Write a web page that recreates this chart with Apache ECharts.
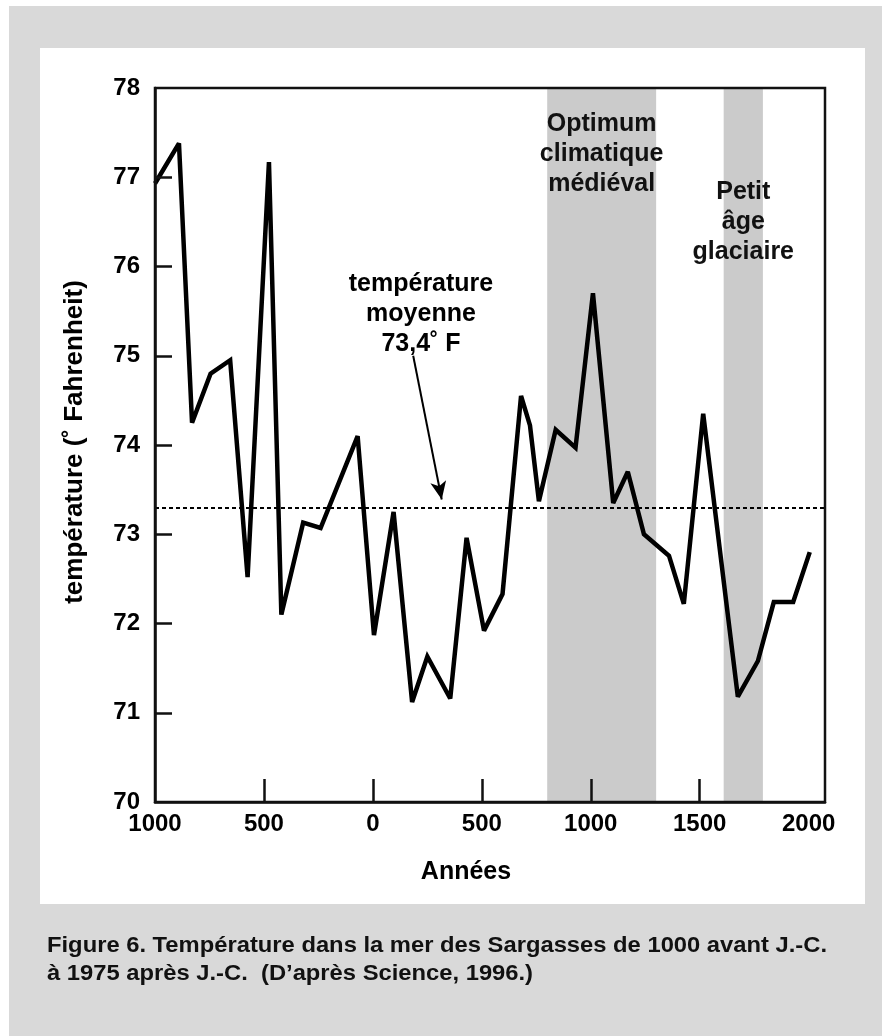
<!DOCTYPE html>
<html>
<head>
<meta charset="utf-8">
<script src="https://cdn.jsdelivr.net/npm/echarts@6/dist/echarts.min.js"></script>
<style>
html,body{margin:0;padding:0;background:#fff;}
#chart{width:882px;height:1036px;}
</style>
</head>
<body>
<div id="chart"></div>
<script>
// ---- data ----
const years = [-1000, -890, -830, -745, -655, -575, -477, -420, -320, -240, -70, 5, 95, 180, 250, 355, 430, 510, 595, 680, 721, 762, 839, 930, 1010, 1103, 1170, 1244, 1359, 1427, 1516, 1675, 1767, 1840, 1929, 2005];
const temps = [76.93, 77.38, 74.25, 74.8, 74.95, 72.52, 77.17, 72.1, 73.13, 73.07, 74.1, 71.87, 73.25, 71.12, 71.63, 71.16, 72.96, 71.92, 72.33, 74.55, 74.22, 73.37, 74.17, 73.97, 75.7, 73.35, 73.7, 73.0, 72.76, 72.22, 74.35, 71.18, 71.58, 72.24, 72.24, 72.8];
const meanTemp = 73.3;
const periods = [
  {name: 'Optimum\nclimatique\nmédiéval', from: 800, to: 1300},
  {name: 'Petit\nâge\nglaciaire', from: 1610, to: 1790}
];
const xTickLabels = [-1000, -500, 0, 500, 1000, 1500, 2000];
const xTickMarks = [-500, 0, 500, 1000, 1500];
const yTickMarks = [71, 72, 73, 74, 75, 76, 77];
const arrowFrom = [185, 75.0];
const arrowTo = [316, 73.39];

const FONT = '"Liberation Sans", Arial, Helvetica, sans-serif';
const chart = echarts.init(document.getElementById('chart'), null, {renderer: 'canvas'});

const labelStyle = {color: '#000', fontFamily: FONT, fontWeight: 'bold', fontSize: 24};

chart.setOption({
  animation: false,
  backgroundColor: '#fff',
  graphic: [
    {type: 'rect', z: 0, shape: {x: 9, y: 6, width: 873, height: 1030}, style: {fill: '#d9d9d9'}},
    {type: 'rect', z: 1, shape: {x: 40, y: 48, width: 825, height: 856}, style: {fill: '#fff'}},
    {type: 'text', z: 10, x: 421, y: 269, style: {text: 'température\nmoyenne\n73,4˚ F', fill: '#000', font: 'bold 25px ' + FONT, textAlign: 'center', textVerticalAlign: 'top', lineHeight: 30}},
    {type: 'text', z: 10, x: 466, y: 872, style: {text: 'Années', fill: '#000', font: 'bold 25px ' + FONT, textAlign: 'center', textVerticalAlign: 'middle'}},
    {type: 'text', z: 10, x: 75, y: 442, rotation: Math.PI / 2, style: {text: 'température (˚ Fahrenheit)', fill: '#000', font: 'bold 26px ' + FONT, textAlign: 'center', textVerticalAlign: 'middle'}},
    {type: 'text', z: 10, x: 47, y: 932, scaleX: 1.08, style: {text: 'Figure 6. Température dans la mer des Sargasses de 1000 avant J.-C.\nà 1975 après J.-C.  (D’après Science, 1996.)', fill: '#111', font: 'bold 22px ' + FONT, textAlign: 'left', textVerticalAlign: 'top', lineHeight: 28}}
  ],
  grid: {left: 155, right: 57, top: 88, bottom: 234, show: true, z: 5, borderColor: '#111', borderWidth: 2.5, backgroundColor: 'transparent'},
  xAxis: {
    type: 'value', min: -1000, max: 2075, interval: 500, z: 6,
    splitLine: {show: false},
    axisLine: {show: true, onZero: false, lineStyle: {color: '#111', width: 2.5}},
    axisTick: {show: true, inside: true, length: 23, customValues: xTickMarks, lineStyle: {color: '#111', width: 2.5}},
    axisLabel: Object.assign({margin: 10, customValues: xTickLabels, formatter: v => String(Math.abs(v))}, labelStyle)
  },
  yAxis: {
    type: 'value', min: 70, max: 78, interval: 1, z: 6,
    splitLine: {show: false},
    axisLine: {show: true, onZero: false, lineStyle: {color: '#111', width: 2.5}},
    axisTick: {show: true, inside: true, length: 17, customValues: yTickMarks, lineStyle: {color: '#111', width: 2.5}},
    axisLabel: Object.assign({margin: 15}, labelStyle)
  },
  series: [{
    type: 'line',
    data: years.map((y, i) => [y, temps[i]]),
    symbol: 'none',
    lineStyle: {color: '#000', width: 4.5, join: 'miter', miterLimit: 2.6},
    z: 3,
    markArea: {
      silent: true,
      itemStyle: {color: '#cbcbcb'},
      label: {show: true, position: 'insideTop', color: '#111', fontFamily: FONT, fontWeight: 'bold', fontSize: 25, lineHeight: 30, align: 'center'},
      data: periods.map((p, i) => [
        {xAxis: p.from, name: p.name, label: {distance: i === 0 ? 21 : 89}},
        {xAxis: p.to}
      ])
    },
    markLine: {
      silent: true,
      symbol: ['none', 'none'],
      label: {show: false},
      data: [
        {yAxis: meanTemp, lineStyle: {color: '#000', width: 2, type: [4, 3]}},
        [
          {coord: arrowFrom, symbol: 'none', lineStyle: {color: '#000', width: 2, type: 'solid'}},
          {coord: arrowTo, symbol: 'arrow', symbolSize: [12, 18]}
        ]
      ]
    }
  }]
});
</script>
</body>
</html>
